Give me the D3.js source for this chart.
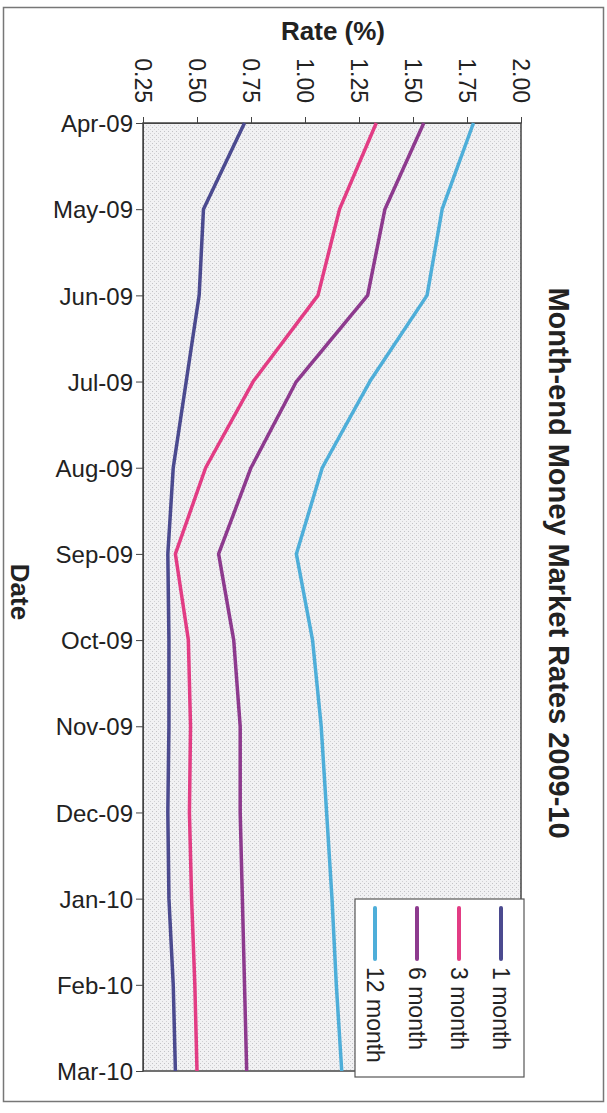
<!DOCTYPE html>
<html>
<head>
<meta charset="utf-8">
<script src="https://cdn.jsdelivr.net/npm/d3@7/dist/d3.min.js"></script>
<style>
  body { margin: 0; background: #fff; }
  text { font-family: "Liberation Sans", Arial, sans-serif; fill: #222; }
</style>
</head>
<body>
<div id="chart"></div>
<script>
// data
var months = ["Apr-09", "May-09", "Jun-09", "Jul-09", "Aug-09", "Sep-09",
              "Oct-09", "Nov-09", "Dec-09", "Jan-10", "Feb-10", "Mar-10"];
var rate1m  = [0.72, 0.53, 0.51, 0.45, 0.39, 0.365, 0.37, 0.37, 0.365, 0.37, 0.39, 0.40];
var rate3m  = [1.33, 1.16, 1.06, 0.76, 0.54, 0.40, 0.46, 0.47, 0.465, 0.475, 0.49, 0.50];
var rate6m  = [1.55, 1.37, 1.29, 0.96, 0.75, 0.60, 0.67, 0.70, 0.70, 0.71, 0.72, 0.73];
var rate12m = [1.78, 1.635, 1.565, 1.30, 1.08, 0.96, 1.035, 1.075, 1.10, 1.125, 1.145, 1.17];
var seriesNames = ["1 month", "3 month", "6 month", "12 month"];
var rateTicks = [0.25, 0.50, 0.75, 1.00, 1.25, 1.50, 1.75, 2.00];

var series = [rate1m, rate3m, rate6m, rate12m].map(function(vals, i) {
  return { name: seriesNames[i], values: vals };
});

// size
var width = 607;
var height = 1113;
var plot = { left: 143, right: 521, top: 123, bottom: 1071 };

var color = d3.scaleOrdinal()
  .domain(seriesNames)
  .range(["#4b4a8f", "#e23c84", "#8d3a8e", "#4eaed9"]);

var svg = d3.select('#chart')
  .append('svg')
  .attr('width', width)
  .attr('height', height);

// chart is drawn turned a quarter clockwise: rate runs across, dates run down
var x = d3.scaleLinear().domain([0.25, 2.00]).range([plot.left, plot.right]);
var y = d3.scalePoint().domain(months).range([plot.top, plot.bottom]);

// outer frame
svg.append('rect')
  .attr('x', 3.5).attr('y', 7.5)
  .attr('width', 600).attr('height', 1094)
  .attr('fill', 'none')
  .attr('stroke', '#777')
  .attr('stroke-width', 1.5);

// stipple for the plot area
var defs = svg.append('defs');
var pat = defs.append('pattern')
  .attr('id', 'stipple')
  .attr('width', 4).attr('height', 4)
  .attr('patternUnits', 'userSpaceOnUse');
pat.append('rect').attr('width', 4).attr('height', 4).attr('fill', '#f1f1f3');
pat.append('rect').attr('x', 0).attr('y', 3).attr('width', 1).attr('height', 1).attr('fill', '#c2c2c6');
pat.append('rect').attr('x', 2).attr('y', 1).attr('width', 1).attr('height', 1).attr('fill', '#d0d0d3');

svg.append('rect')
  .attr('x', plot.left).attr('y', plot.top)
  .attr('width', plot.right - plot.left)
  .attr('height', plot.bottom - plot.top)
  .attr('fill', 'url(#stipple)')
  .attr('stroke', '#444')
  .attr('stroke-width', 1.5);

// rate axis (top)
var rateAxis = svg.append('g')
  .attr('transform', 'translate(0,' + plot.top + ')')
  .call(d3.axisTop(x).tickValues(rateTicks).tickFormat(d3.format('.2f')).tickSize(6).tickSizeOuter(0));
rateAxis.select('.domain').attr('stroke', '#444');
rateAxis.selectAll('.tick line').attr('stroke', '#444');
rateAxis.selectAll('.tick text')
  .attr('font-size', 23)
  .attr('transform', 'rotate(90)')
  .attr('x', -20)
  .attr('y', 0)
  .attr('dy', '0.36em')
  .style('text-anchor', 'end');

// date axis (left)
var dateAxis = svg.append('g')
  .attr('transform', 'translate(' + plot.left + ',0)')
  .call(d3.axisLeft(y).tickSize(7).tickSizeOuter(0));
dateAxis.select('.domain').attr('stroke', '#444');
dateAxis.selectAll('.tick line').attr('stroke', '#444');
dateAxis.selectAll('.tick text')
  .attr('font-size', 24)
  .attr('x', -10)
  .attr('dy', '0.36em');

// lines
var line = d3.line()
  .x(function(d) { return x(d.v); })
  .y(function(d) { return y(d.m); });

svg.selectAll('.series')
  .data(series)
  .enter()
  .append('path')
  .attr('class', 'series')
  .attr('fill', 'none')
  .attr('stroke', function(d) { return color(d.name); })
  .attr('stroke-width', 3.5)
  .attr('stroke-linejoin', 'round')
  .attr('d', function(d) {
    return line(d.values.map(function(v, i) { return { m: months[i], v: v }; }));
  });

// titles
svg.append('text')
  .attr('x', 333).attr('y', 40)
  .attr('text-anchor', 'middle')
  .attr('font-size', 26)
  .attr('font-weight', 'bold')
  .text('Rate (%)');

svg.append('text')
  .attr('transform', 'translate(549,563) rotate(90)')
  .attr('text-anchor', 'middle')
  .attr('font-size', 29)
  .attr('font-weight', 'bold')
  .text('Month-end Money Market Rates 2009-10');

svg.append('text')
  .attr('transform', 'translate(11,592) rotate(90)')
  .attr('text-anchor', 'middle')
  .attr('font-size', 26)
  .attr('font-weight', 'bold')
  .text('Date');

// legend
var legendBox = { left: 355, right: 524, top: 899, bottom: 1077 };
svg.append('rect')
  .attr('x', legendBox.left).attr('y', legendBox.top)
  .attr('width', legendBox.right - legendBox.left)
  .attr('height', legendBox.bottom - legendBox.top)
  .attr('fill', '#fff')
  .attr('stroke', '#555')
  .attr('stroke-width', 1.2);

var legendSpacing = 42;
var legend = svg.selectAll('.legend')
  .data(seriesNames)
  .enter()
  .append('g')
  .attr('class', 'legend')
  .attr('transform', function(d, i) {
    return 'translate(' + (501 - i * legendSpacing) + ',' + 908 + ')';
  });

legend.append('line')
  .attr('x1', 0).attr('x2', 0)
  .attr('y1', 0).attr('y2', 51)
  .attr('stroke', function(d) { return color(d); })
  .attr('stroke-width', 4)
  .attr('stroke-linecap', 'round');

legend.append('text')
  .attr('transform', 'translate(0,59) rotate(90)')
  .attr('dy', '0.36em')
  .attr('font-size', 23)
  .text(function(d) { return d; });
</script>
</body>
</html>
